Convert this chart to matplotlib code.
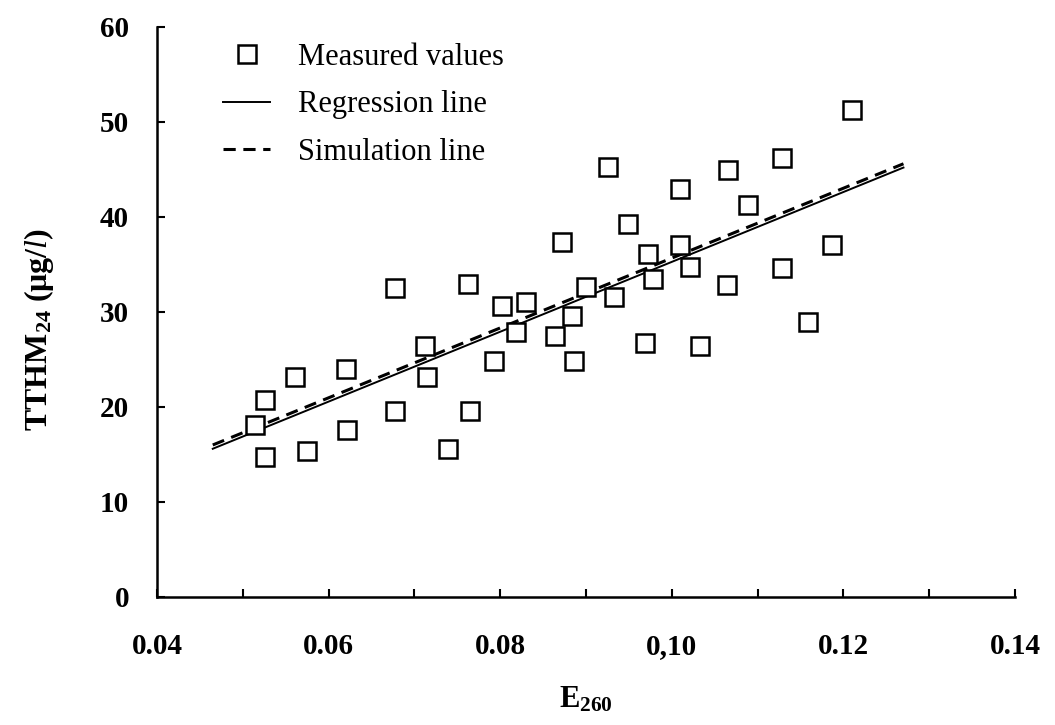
import matplotlib
matplotlib.use("Agg")
import matplotlib.pyplot as plt
from matplotlib.ticker import MultipleLocator, FixedFormatter, FixedLocator

# ---- data ----
e260 = [0.0514, 0.0526, 0.0526, 0.0561, 0.0575, 0.0620, 0.0622, 0.0677, 0.0677,
        0.0712, 0.0715, 0.0739, 0.0762, 0.0765, 0.0793, 0.0802, 0.0818, 0.0830,
        0.0864, 0.0872, 0.0884, 0.0886, 0.0900, 0.0926, 0.0933, 0.0949, 0.0969,
        0.0972, 0.0978, 0.1010, 0.1010, 0.1021, 0.1033, 0.1066, 0.1064, 0.1089,
        0.1128, 0.1128, 0.1159, 0.1187, 0.1210]
tthm = [18.1, 20.7, 14.7, 23.2, 15.4, 24.0, 17.6, 32.5, 19.6,
        26.4, 23.2, 15.6, 32.9, 19.6, 24.8, 30.6, 27.9, 31.1,
        27.5, 37.4, 29.6, 24.8, 32.6, 45.3, 31.6, 39.3, 26.7,
        36.1, 33.5, 42.9, 37.1, 34.7, 26.4, 44.9, 32.8, 41.3,
        46.2, 34.6, 28.9, 37.1, 51.3]
line_x = [0.0465, 0.1270]
regression_y = [15.6, 45.2]
simulation_y = [16.0, 45.6]
x_ticks = [0.04, 0.06, 0.08, 0.10, 0.12, 0.14]
x_tick_labels = ["0.04", "0.06", "0.08", "0,10", "0.12", "0.14"]
y_ticks = [0, 10, 20, 30, 40, 50, 60]

plt.rcParams['font.family'] = ['Liberation Serif', 'DejaVu Serif']
plt.rcParams['mathtext.fontset'] = 'custom'
plt.rcParams['mathtext.rm'] = 'Liberation Serif'
plt.rcParams['mathtext.it'] = 'Liberation Serif:italic'
plt.rcParams['mathtext.bf'] = 'Liberation Serif:bold'

fig = plt.figure(figsize=(10.55, 7.25), dpi=100)
ax = fig.add_axes([0.1488, 0.1766, 0.9621 - 0.1488, 0.9628 - 0.1766])

ax.plot(e260, tthm, linestyle='none', marker='s', markersize=13,
        markerfacecolor='white', markeredgecolor='black', markeredgewidth=1.8,
        label='Measured values', zorder=3)
ax.plot(line_x, regression_y, color='black', lw=1.4, label='Regression line', zorder=2)
ax.plot(line_x, simulation_y, color='black', lw=2.2, linestyle=(0, (4, 2.5)),
        label='Simulation line', zorder=2)

ax.set_xlim(0.04, 0.14)
ax.set_ylim(0, 60)
ax.xaxis.set_major_locator(FixedLocator(x_ticks))
ax.xaxis.set_major_formatter(FixedFormatter(x_tick_labels))
ax.xaxis.set_minor_locator(MultipleLocator(0.01))
ax.yaxis.set_major_locator(FixedLocator(y_ticks))

for s in ['top', 'right']:
    ax.spines[s].set_visible(False)
for s in ['left', 'bottom']:
    ax.spines[s].set_linewidth(1.8)

ax.tick_params(axis='x', which='both', direction='in', length=6, width=1.5,
               pad=26, labelsize=21)
ax.tick_params(axis='y', which='both', direction='in', length=6, width=1.5,
               pad=20, labelsize=21)
for lbl in ax.get_xticklabels() + ax.get_yticklabels():
    lbl.set_fontweight('bold')

ax.set_xlabel(r'E$_{\mathbf{260}}$', fontsize=22, fontweight='bold', labelpad=18)
ax.set_ylabel(r'TTHM$_{\mathbf{24}}$ ($\mathbf{\mu}$g/$\mathit{l}$)', fontsize=23,
              fontweight='bold')
ax.yaxis.set_label_coords(-0.118, 0.47)

leg = ax.legend(loc='upper left', bbox_to_anchor=(0.045, 1.02), frameon=False,
                fontsize=22, handlelength=1.54, handletextpad=0.9,
                labelspacing=0.6, markerscale=1.0)

fig.savefig('out.png', dpi=100, facecolor='white')
